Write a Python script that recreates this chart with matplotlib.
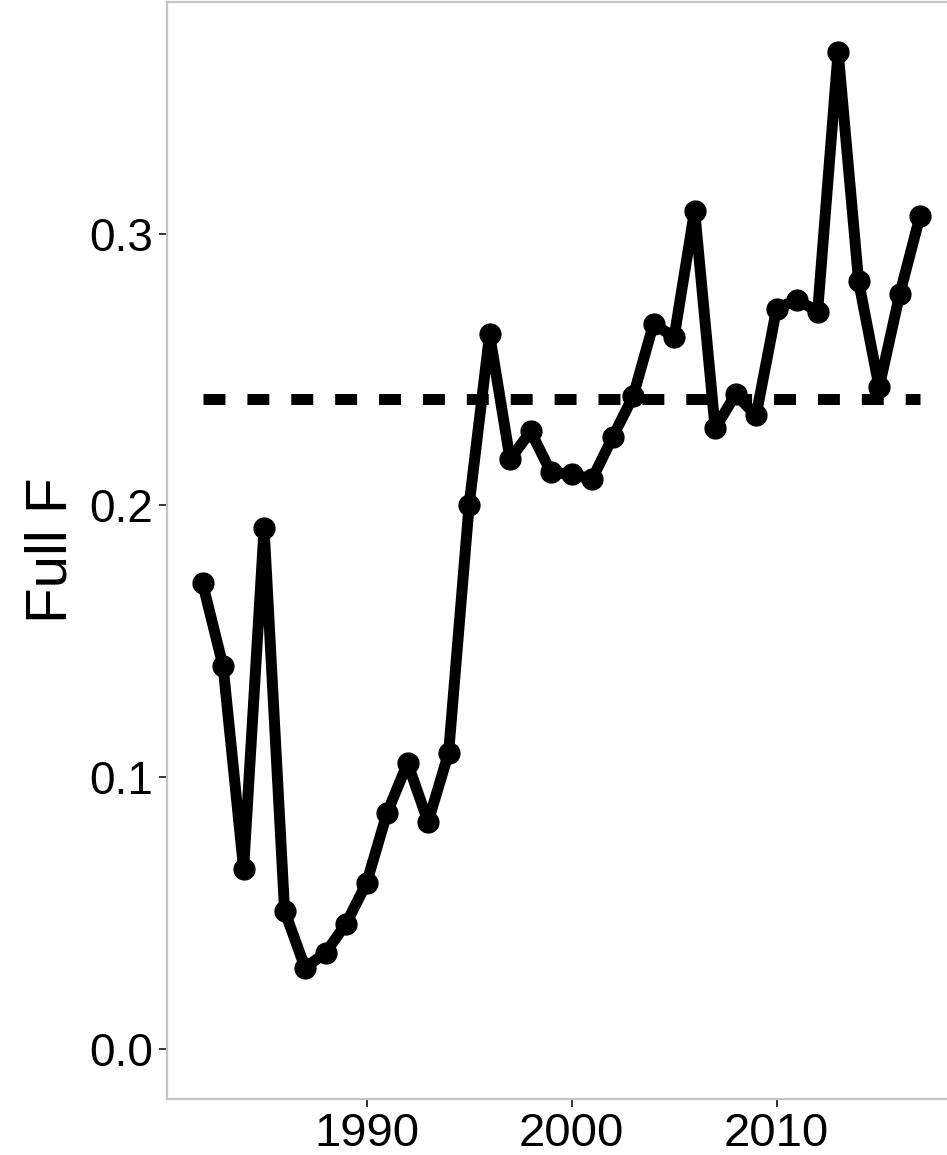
import matplotlib
matplotlib.use("Agg")
import matplotlib.pyplot as plt

# Fishing mortality series (full F) by year
years = [1982, 1983, 1984, 1985, 1986, 1987, 1988, 1989, 1990, 1991,
         1992, 1993, 1994, 1995, 1996, 1997, 1998, 1999, 2000, 2001,
         2002, 2003, 2004, 2005, 2006, 2007, 2008, 2009, 2010, 2011,
         2012, 2013, 2014, 2015, 2016, 2017]
full_f = [0.1713, 0.1408, 0.0662, 0.1915, 0.0507, 0.0298, 0.0353, 0.0460,
          0.0610, 0.0868, 0.1051, 0.0835, 0.1088, 0.2000, 0.2629, 0.2169,
          0.2272, 0.2121, 0.2114, 0.2096, 0.2250, 0.2401, 0.2669, 0.2618,
          0.3085, 0.2283, 0.2408, 0.2331, 0.2724, 0.2757, 0.2713, 0.3669,
          0.2824, 0.2434, 0.2776, 0.3066]
reference_f = 0.2393

x_ticks = [1990, 2000, 2010]
y_ticks = [0.0, 0.1, 0.2, 0.3]
y_tick_labels = ["0.0", "0.1", "0.2", "0.3"]

plt.rcParams["font.family"] = ["Liberation Sans", "DejaVu Sans"]

W, H = 947, 1155
fig = plt.figure(figsize=(W / 100, H / 100), dpi=100)
left, right, bottom, top = 166.7, 956.0, 1098.5, 2.0
ax = fig.add_axes([left / W, (H - bottom) / H, (right - left) / W, (bottom - top) / H])

# ggplot-style expanded limits (5% padding, y includes zero)
xr = max(years) - min(years)
ax.set_xlim(min(years) - 0.05 * xr, max(years) + 0.05 * xr)
ymax = max(full_f)
ax.set_ylim(0 - 0.05 * ymax, ymax + 0.05 * ymax)

ax.plot([min(years), max(years)], [reference_f, reference_f], color="black",
        lw=7.9, ls=(0, (2.0, 2.0)), dash_capstyle="butt", zorder=2)
ax.plot(years, full_f, color="black", lw=7.9, solid_joinstyle="round",
        solid_capstyle="round", zorder=3)
ax.plot(years, full_f, "o", color="black", ms=15, zorder=4)

ax.set_xticks(x_ticks)
ax.set_xticklabels([str(v) for v in x_ticks])
ax.set_yticks(y_ticks)
ax.set_yticklabels(y_tick_labels)
ax.tick_params(axis="both", labelsize=33, colors="#333333", labelcolor="black",
               length=5.8, width=1.4, pad=4)
ax.tick_params(axis="x", labelsize=34)
ax.set_ylabel("Full F", fontsize=42, labelpad=8)

for side in ["left", "top", "bottom", "right"]:
    ax.spines[side].set_color("#c4c4c4")
    ax.spines[side].set_linewidth(1.6)

fig.savefig("out.png", dpi=100)
